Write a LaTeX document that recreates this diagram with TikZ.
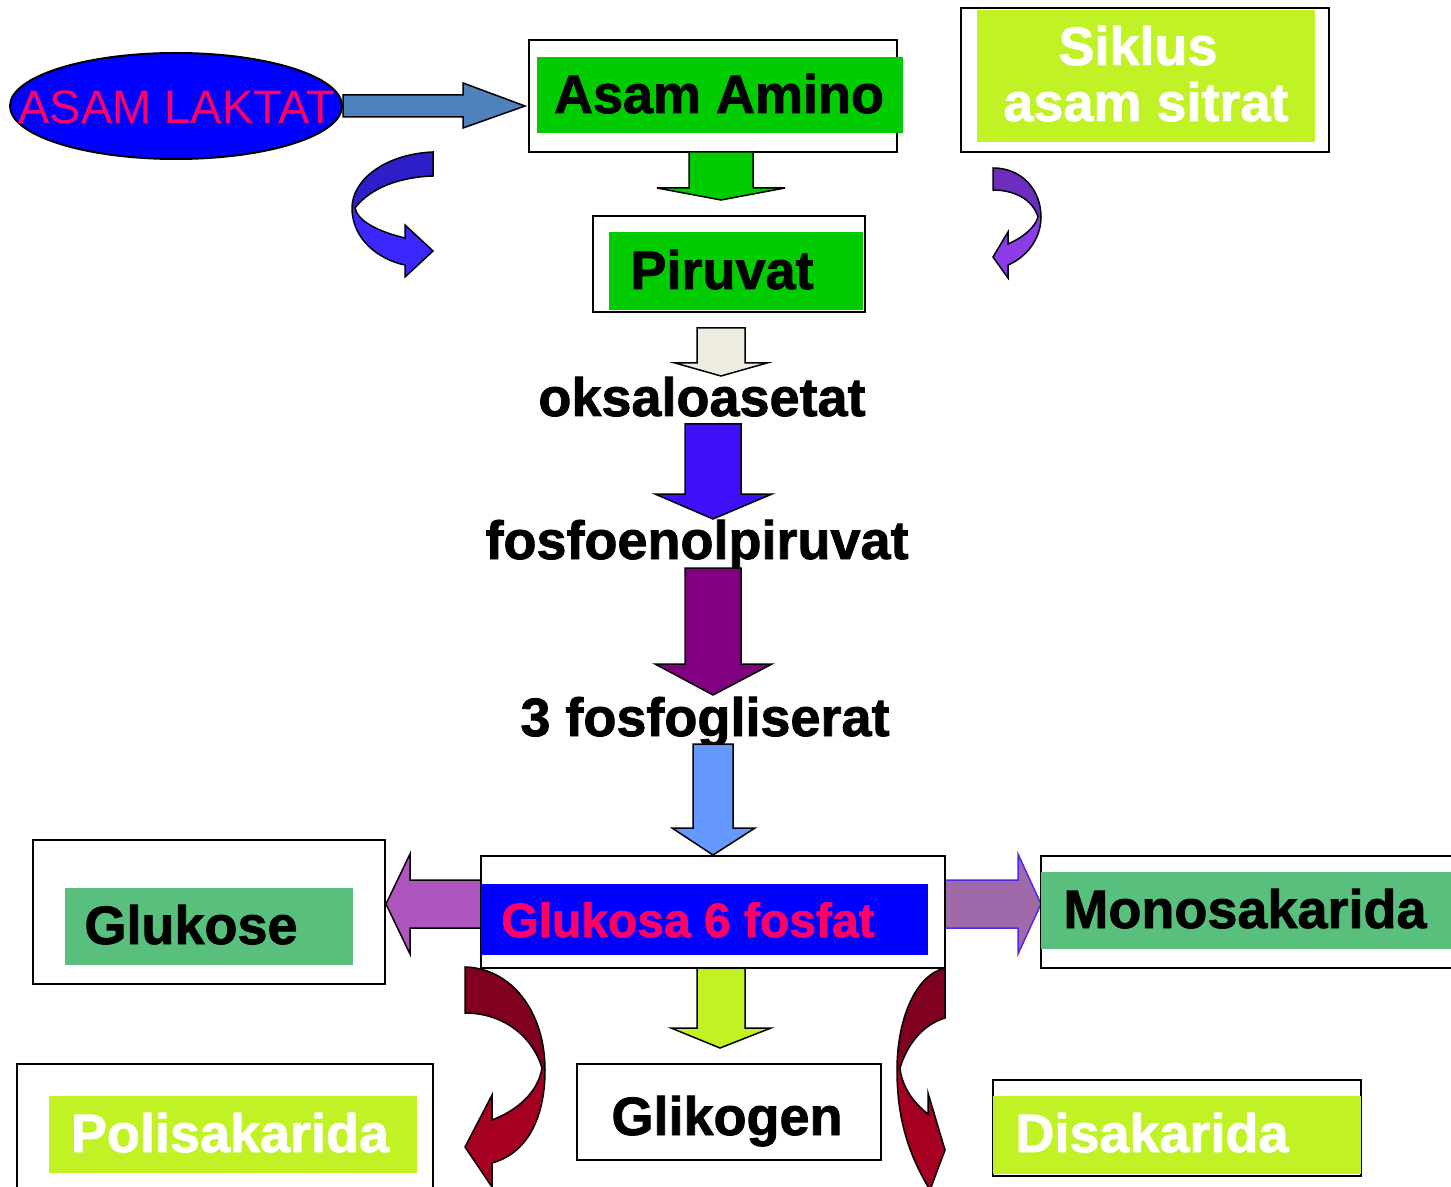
\documentclass[tikz,border=0pt]{standalone}
\usepackage{fontspec}
\setmainfont{Liberation Sans}[BoldFeatures={FakeBold=1.5}]
\usepackage{tikz}
\usetikzlibrary{shapes.geometric}

\definecolor{laktatblue}{RGB}{0,0,255}
\definecolor{hotpink}{RGB}{255,0,102}
\definecolor{steel}{RGB}{79,129,189}
\definecolor{aminogreen}{RGB}{0,204,0}
\definecolor{lime}{RGB}{192,242,38}
\definecolor{seagreen}{RGB}{88,192,124}
\definecolor{cream}{RGB}{238,236,225}
\definecolor{violetblue}{RGB}{64,16,250}
\definecolor{plum}{RGB}{128,0,128}
\definecolor{skyblue}{RGB}{102,153,255}
\definecolor{orchid}{RGB}{175,85,190}
\definecolor{mauve}{RGB}{160,106,170}
\definecolor{mauveline}{RGB}{80,40,230}
\definecolor{curlbluedark}{RGB}{45,30,200}
\definecolor{curlblue}{RGB}{60,40,255}
\definecolor{curlpurpdark}{RGB}{110,45,190}
\definecolor{curlpurp}{RGB}{140,60,230}
\definecolor{wine}{RGB}{128,0,32}
\definecolor{winelight}{RGB}{165,0,33}

\tikzset{
  framebox/.style={draw=black, line width=1pt, fill=white},
  txt/.style={font=\fontsize{27}{28}\selectfont\bfseries, inner sep=0pt, anchor=base},
  fat/.style={draw=black, line width=0.75pt, line join=miter},
}

\begin{document}
\begin{tikzpicture}[x=0.5pt, y=-0.5pt]
    \useasboundingbox (0,0) rectangle (1451,1187);
    % Asam laktat
    \node[ellipse, draw=black, line width=1pt, fill=laktatblue, minimum width=166pt, minimum height=53pt, inner sep=0pt] (laktat) at (176,106) {};
    \node[txt, font=\fontsize{23.5}{25}\selectfont, text=hotpink] (laktattxt) at (177,124) {ASAM LAKTAT};
    \filldraw[fat, fill=steel] (343,95) -- (463,95) -- (463,83) -- (525,106) -- (463,128) -- (463,117) -- (343,117) -- cycle;
    % Asam Amino
    \draw[framebox] (529,40) rectangle (897,152);
    \fill[aminogreen] (537,57) rectangle (903,133);
    \node[txt] (amino) at (719,113) {Asam Amino};
    % Siklus asam sitrat
    \draw[framebox] (961,8) rectangle (1329,152);
    \fill[lime] (977,10) rectangle (1315,142);
    \node[txt, text=white] (siklus) at (1138,65) {Siklus};
    \node[txt, text=white] (sitrat) at (1146,121) {asam sitrat};
    % Amino -> Piruvat
    \filldraw[fat, fill=aminogreen] (689,152) -- (753,152) -- (753,188) -- (785,188) -- (721,200) -- (657,188) -- (689,188) -- cycle;
    % Piruvat
    \draw[framebox] (593,216) rectangle (865,312);
    \fill[aminogreen] (609,232) rectangle (863,310);
    \node[txt] (piruvat) at (722,289) {Piruvat};
    % Curled arrows at the top
    \fill[curlblue] (433,152) .. controls (385,154) and (352,180) .. (352,208) .. controls (352,240) and (380,260) .. (405,265) -- (405,277) -- (433,251) -- (405,225) -- (405,238) .. controls (380,232) and (358,222) .. (355,208) .. controls (370,188) and (400,177) .. (433,176) -- cycle;
    \fill[curlbluedark] (433,152) .. controls (385,154) and (352,180) .. (352,208) -- (355,208) .. controls (370,188) and (400,177) .. (433,176) -- cycle;
    \draw[fat] (433,152) .. controls (385,154) and (352,180) .. (352,208) .. controls (352,240) and (380,260) .. (405,265) -- (405,277) -- (433,251) -- (405,225) -- (405,238) .. controls (380,232) and (358,222) .. (355,208) .. controls (370,188) and (400,177) .. (433,176) -- cycle;
    \fill[curlpurp] (993,168) .. controls (1022,168) and (1041,190) .. (1041,217) .. controls (1041,240) and (1025,258) .. (1008,265) -- (1008,278) -- (993,257) -- (1008,232) -- (1008,244) .. controls (1022,238) and (1035,228) .. (1038,217) .. controls (1033,200) and (1015,190) .. (993,190) -- cycle;
    \fill[curlpurpdark] (993,168) .. controls (1022,168) and (1041,190) .. (1041,217) -- (1038,217) .. controls (1033,200) and (1015,190) .. (993,190) -- cycle;
    \draw[fat] (993,168) .. controls (1022,168) and (1041,190) .. (1041,217) .. controls (1041,240) and (1025,258) .. (1008,265) -- (1008,278) -- (993,257) -- (1008,232) -- (1008,244) .. controls (1022,238) and (1035,228) .. (1038,217) .. controls (1033,200) and (1015,190) .. (993,190) -- cycle;
    % Piruvat -> oksaloasetat -> ... -> glukosa 6 fosfat
    \filldraw[fat, fill=cream] (697,328) -- (745,328) -- (745,363) -- (767,363) -- (721,376) -- (675,363) -- (697,363) -- cycle;
    \node[txt] (oksalo) at (702,416) {oksaloasetat};
    \filldraw[fat, fill=violetblue] (685,424) -- (741,424) -- (741,494) -- (772,494) -- (713,519) -- (655,494) -- (685,494) -- cycle;
    \node[txt] (fosfoenol) at (697,559) {fosfoenolpiruvat};
    \filldraw[fat, fill=plum] (685,568) -- (741,568) -- (741,664) -- (772,664) -- (713,695) -- (655,664) -- (685,664) -- cycle;
    \node[txt] (fosfogli) at (705,736) {3 fosfogliserat};
    \filldraw[fat, fill=skyblue] (693,744) -- (733,744) -- (733,828) -- (755,828) -- (713,855) -- (672,828) -- (693,828) -- cycle;
    % Side arrows
    \filldraw[fat, fill=orchid] (481,880) -- (410,880) -- (410,854) -- (386,904) -- (410,954) -- (410,928) -- (481,928) -- cycle;
    \filldraw[fat, draw=mauveline, fill=mauve] (945,880) -- (1018,880) -- (1018,854) -- (1041,904) -- (1018,954) -- (1018,928) -- (945,928) -- cycle;
    % Glukosa 6 fosfat
    \draw[framebox] (481,856) rectangle (945,968);
    \fill[laktatblue] (481,884) rectangle (928,955);
    \node[txt, font=\fontsize{24}{26}\selectfont\bfseries, text=hotpink] (gsf) at (688,937) {Glukosa 6 fosfat};
    % Glukose
    \draw[framebox] (33,840) rectangle (385,984);
    \fill[seagreen] (65,888) rectangle (353,965);
    \node[txt] (glukose) at (191,944) {Glukose};
    % Monosakarida
    \draw[framebox] (1041,856) rectangle (1470,968);
    \fill[seagreen] (1041,872) rectangle (1470,949);
    \node[txt] (mono) at (1245,928) {Monosakarida};
    % G6P -> Glikogen
    \filldraw[fat, fill=lime] (697,968) -- (745,968) -- (745,1028) -- (771,1028) -- (720,1048) -- (671,1028) -- (697,1028) -- cycle;
    \draw[framebox] (577,1064) rectangle (881,1160);
    \node[txt] (glikogen) at (727,1135) {Glikogen};
    % Polisakarida and Disakarida
    \draw[framebox] (17,1064) rectangle (433,1200);
    \fill[lime] (49,1096) rectangle (417,1173);
    \node[txt, text=white] (poli) at (230,1152) {Polisakarida};
    \draw[framebox] (993,1080) rectangle (1361,1176);
    \fill[lime] (993,1096) rectangle (1361,1174);
    \node[txt, text=white] (disa) at (1152,1152) {Disakarida};
    % Curled arrows at the bottom
    \fill[winelight] (465,967) .. controls (510,968) and (545,1010) .. (545,1070) .. controls (545,1125) and (522,1155) .. (492,1163) -- (492,1187) -- (465,1147) -- (492,1095) -- (492,1120) .. controls (518,1110) and (538,1092) .. (542,1068) .. controls (532,1035) and (502,1013) .. (465,1013) -- cycle;
    \fill[wine] (465,967) .. controls (510,968) and (545,1010) .. (545,1070) -- (542,1068) .. controls (532,1035) and (502,1013) .. (465,1013) -- cycle;
    \draw[fat] (465,967) .. controls (510,968) and (545,1010) .. (545,1070) .. controls (545,1125) and (522,1155) .. (492,1163) -- (492,1187) -- (465,1147) -- (492,1095) -- (492,1120) .. controls (518,1110) and (538,1092) .. (542,1068) .. controls (532,1035) and (502,1013) .. (465,1013) -- cycle;
    \fill[winelight] (945,968) .. controls (915,975) and (897,1020) .. (897,1070) .. controls (897,1125) and (912,1160) .. (930,1190) -- (945,1150) -- (928,1093) -- (928,1114) .. controls (915,1104) and (902,1088) .. (900,1068) .. controls (907,1045) and (922,1025) .. (945,1018) -- cycle;
    \fill[wine] (945,968) .. controls (915,975) and (897,1020) .. (897,1070) -- (900,1068) .. controls (907,1045) and (922,1025) .. (945,1018) -- cycle;
    \draw[fat] (945,968) .. controls (915,975) and (897,1020) .. (897,1070) .. controls (897,1125) and (912,1160) .. (930,1190) -- (945,1150) -- (928,1093) -- (928,1114) .. controls (915,1104) and (902,1088) .. (900,1068) .. controls (907,1045) and (922,1025) .. (945,1018) -- cycle;
\end{tikzpicture}
\end{document}
